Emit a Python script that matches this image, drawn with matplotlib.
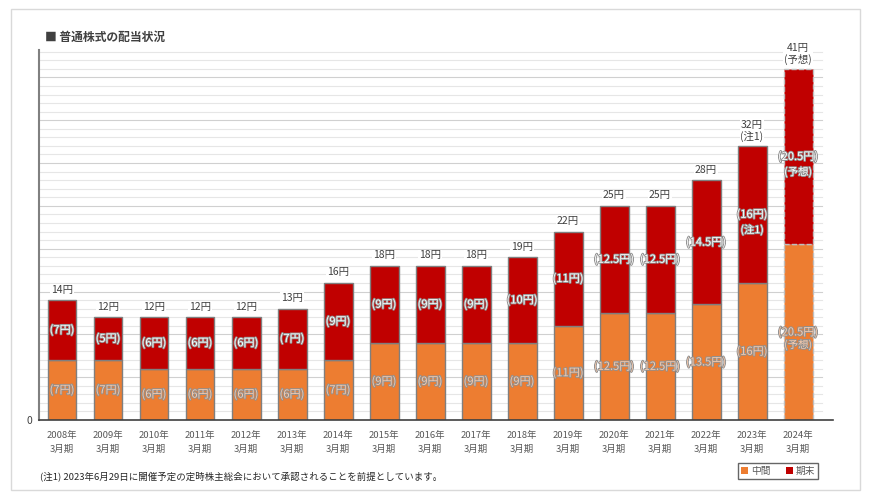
import matplotlib
matplotlib.use("Agg")
import matplotlib.pyplot as plt
import matplotlib.patheffects as pe
from matplotlib.patches import Rectangle, Patch
import numpy as np

plt.rcParams['font.family'] = ['Noto Sans CJK JP', 'DejaVu Sans']

years = ['2008年', '2009年', '2010年', '2011年', '2012年', '2013年', '2014年', '2015年',
         '2016年', '2017年', '2018年', '2019年', '2020年', '2021年', '2022年', '2023年', '2024年']
period = '3月期'
interim = [7, 7, 6, 6, 6, 6, 7, 9, 9, 9, 9, 11, 12.5, 12.5, 13.5, 16, 20.5]
final = [7, 5, 6, 6, 6, 7, 9, 9, 9, 9, 10, 11, 12.5, 12.5, 14.5, 16, 20.5]
totals = [14, 12, 12, 12, 12, 13, 16, 18, 18, 18, 19, 22, 25, 25, 28, 32, 41]
total_notes = {15: '(注1)', 16: '(予想)'}
final_notes = {15: '(注1)', 16: '(予想)'}
interim_notes = {16: '(予想)'}

title = '■ 普通株式の配当状況'
footnote = '(注1) 2023年6月29日に開催予定の定時株主総会において承認されることを前提としています。'
legend_labels = ['中間', '期末']

c_int = '#ED7D31'
c_fin = '#C00000'

fig = plt.figure(figsize=(8.7, 4.96), dpi=100)
fig.patches.append(Rectangle((11/870, 1-490/496), (860-11)/870, (490-9)/496,
                             transform=fig.transFigure, fill=False,
                             edgecolor='#D9D9D9', linewidth=1))
ax = fig.add_axes([39/870, 1-420/496, (833-39)/870, 370/496])
x = np.arange(len(years))
ax.set_xlim(-0.5, 16.76)
ax.set_ylim(0, 43.2)

# gridlines
for v in range(1, 44):
    col = '#D0D0D0' if v % 5 == 0 else '#E6E6E6'
    ax.plot([-0.5, 16.52], [v, v], color=col, linewidth=0.8, zorder=0, clip_on=False)

w = 0.63
for i in x:
    last = (i == len(years) - 1)
    ec = '#BFBFBF' if last else '#7F7F7F'
    ls = '--' if last else '-'
    ax.bar(i, interim[i], width=w, color=c_int, edgecolor=ec, linewidth=1, linestyle=ls, zorder=2)
    ax.bar(i, final[i], bottom=interim[i], width=w, color=c_fin, edgecolor=ec, linewidth=1, linestyle=ls, zorder=2)

def fmt(v):
    return f'({v:g}円)'

stroke_red = [pe.withStroke(linewidth=1.3, foreground='#909090')]
stroke_or = [pe.withStroke(linewidth=1.3, foreground='#909090')]
for i in x:
    # final segment labels
    yc = interim[i] + final[i] / 2
    ax.text(i, yc, fmt(final[i]), ha='center', va='center', color='white', fontsize=8,
            path_effects=stroke_red, zorder=4)
    if i in final_notes:
        ax.annotate(final_notes[i], (i, yc), xytext=(0, -11), textcoords='offset points',
                    ha='center', va='center', color='white', fontsize=7.5,
                    path_effects=stroke_red, zorder=4)
    # interim labels
    yc2 = interim[i] / 2
    ax.text(i, yc2, fmt(interim[i]), ha='center', va='center', color='#F8CBAD', fontsize=8,
            path_effects=stroke_or, zorder=4)
    if i in interim_notes:
        ax.annotate(interim_notes[i], (i, yc2), xytext=(0, -9), textcoords='offset points',
                    ha='center', va='center', color='#F8CBAD', fontsize=7.5,
                    path_effects=stroke_or, zorder=4)
    # totals
    if i in total_notes:
        ax.annotate(f'{totals[i]}円\n{total_notes[i]}', (i, totals[i]), xytext=(0, 3),
                    textcoords='offset points', ha='center', va='bottom', color='#404040',
                    fontsize=7.5, linespacing=1.1,
                    bbox=dict(facecolor='white', edgecolor='none', pad=0.5), zorder=4)
    else:
        ax.annotate(f'{totals[i]}円', (i, totals[i]), xytext=(0, 4),
                    textcoords='offset points', ha='center', va='bottom', color='#404040',
                    fontsize=7.5, bbox=dict(facecolor='white', edgecolor='none', pad=0.5),
                    zorder=4)

ax.set_xticks(x)
ax.set_xticklabels([f'{y}\n{period}' for y in years], fontsize=6.8, color='#595959', linespacing=1.6)
ax.tick_params(axis='x', length=0, pad=8)
ax.set_yticks([0])
ax.set_yticklabels(['0'], fontsize=7.5, color='#404040')
ax.tick_params(axis='y', length=0, pad=5)
for s in ['top', 'right']:
    ax.spines[s].set_visible(False)
ax.spines['left'].set_color('#808080')
ax.spines['left'].set_linewidth(1.5)
ax.spines['bottom'].set_color('#404040')
ax.spines['bottom'].set_linewidth(1.2)
ax.set_facecolor('none')

fig.text(45/870, 1-37/496, title, fontsize=8.5, fontweight='bold', color='#404040',
         ha='left', va='center')
fig.text(40/870, 1-476/496, footnote, fontsize=6.8, color='#262626', ha='left', va='center')

handles = [Patch(facecolor=c_int, edgecolor='none'), Patch(facecolor=c_fin, edgecolor='none')]
leg = fig.legend(handles, legend_labels, loc='center', bbox_to_anchor=(778/870, 1-471/496),
                 ncol=2, fontsize=7, frameon=True, fancybox=False, edgecolor='#404040',
                 handlelength=0.7, handleheight=0.7, handletextpad=0.3, columnspacing=1.6,
                 borderpad=0.3, borderaxespad=0, labelcolor='#595959')
leg.get_frame().set_linewidth(1)

fig.savefig('out.png', dpi=100)
